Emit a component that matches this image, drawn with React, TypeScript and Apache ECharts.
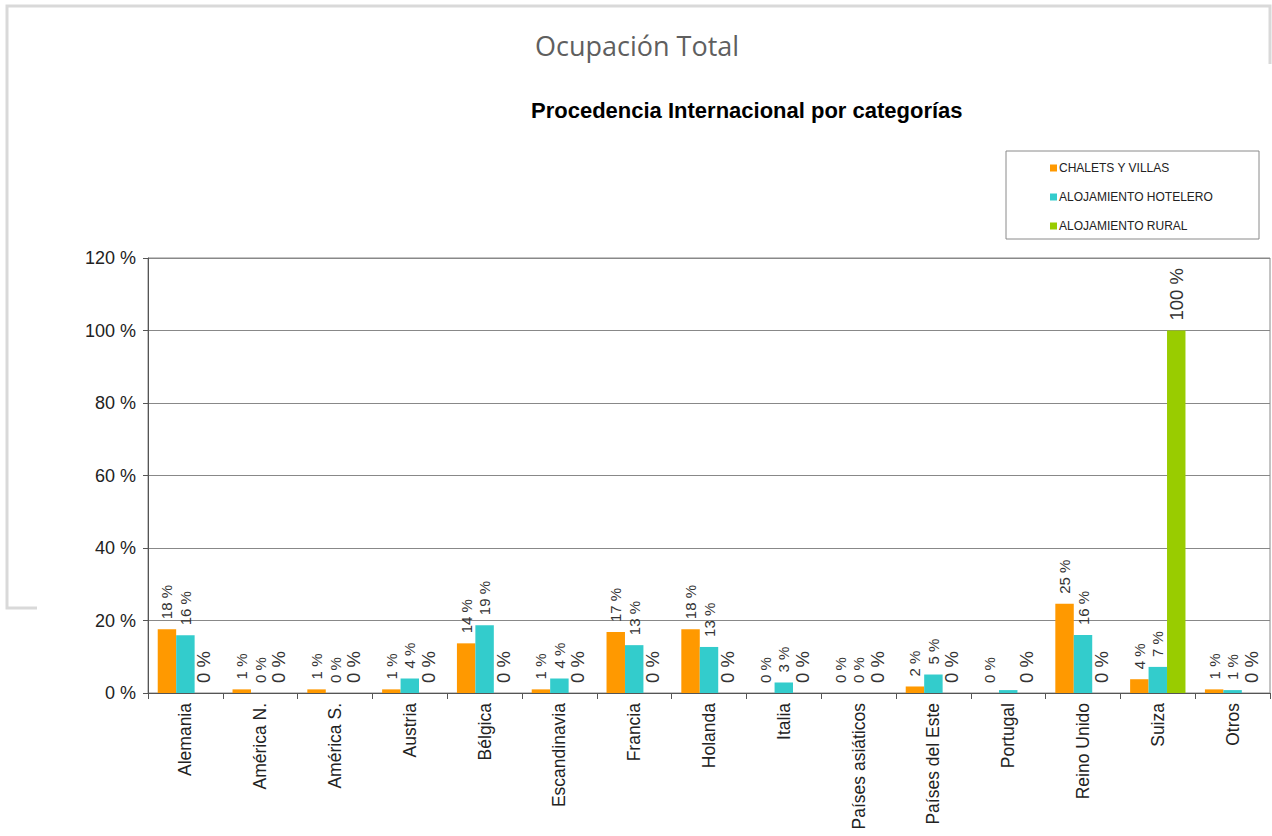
import React, { useEffect, useRef } from "react";
import * as echarts from "echarts";

const categories = [
  "Alemania",
  "América N.",
  "América S.",
  "Austria",
  "Bélgica",
  "Escandinavia",
  "Francia",
  "Holanda",
  "Italia",
  "Países asiáticos",
  "Países del Este",
  "Portugal",
  "Reino Unido",
  "Suiza",
  "Otros",
];
const seriesNames = ["CHALETS Y VILLAS", "ALOJAMIENTO HOTELERO", "ALOJAMIENTO RURAL"];
const chalets = [17.6, 1, 1, 1, 13.7, 1, 16.8, 17.6, 0, 0, 1.8, 0, 24.6, 3.8, 1];
const hotelero = [15.9, 0, 0, 4, 18.7, 4, 13.2, 12.7, 2.9, 0, 5.1, 0.8, 16, 7.2, 0.8];
const rural = [0, 0, 0, 0, 0, 0, 0, 0, 0, 0, 0, 0, 0, 100, 0];
// labels that are not printed in the reference: [seriesIndex, categoryIndex]
const hiddenLabels = [[1, 11]];
const yMin = 0;
const yMax = 120;
const yStep = 20;
const colors = ["#FF9900", "#33CCCC", "#99CC00"];
const labelSizes = [15, 15, 18.5];

const FONT = "'Liberation Sans', Arial, sans-serif";

function buildSeries(values: number[], si: number) {
  return {
    name: seriesNames[si],
    type: "bar",
    barGap: "0%",
    barCategoryGap: "26%",
    itemStyle: { color: colors[si] },
    label: {
      show: true,
      position: "top",
      rotate: 90,
      align: "left",
      verticalAlign: "middle",
      distance: 10,
      fontFamily: FONT,
      fontSize: labelSizes[si],
      color: "#333",
      formatter: (p: any) => `${Math.round(p.value)} %`,
    },
    data: values.map((v, ci) => ({
      value: v,
      label: {
        show: !hiddenLabels.some((h) => h[0] === si && h[1] === ci),
      },
    })),
  };
}

export default function App() {
  const ref = useRef<HTMLDivElement>(null);
  useEffect(() => {
    if (!ref.current) return;
    const chart = echarts.init(ref.current, undefined, { renderer: "svg" });
    chart.setOption({
      animation: false,
      backgroundColor: "#ffffff",
      title: [
        {
          text: "Ocupación Total",
          left: 530,
          top: 27,
          textStyle: {
            fontFamily: "'Open Sans', sans-serif",
            fontWeight: "normal",
            fontSize: 27,
            color: "#5f5f5f",
          },
        },
        {
          text: "Procedencia Internacional por categorías",
          left: 526,
          top: 94,
          textStyle: {
            fontFamily: FONT,
            fontWeight: "bold",
            fontSize: 22,
            color: "#000",
          },
        },
      ],
      legend: {
        orient: "vertical",
        left: 1050,
        top: 161,
        itemWidth: 7,
        itemHeight: 7,
        itemGap: 15,
        icon: "rect",
        padding: 0,
        textStyle: {
          fontFamily: FONT,
          fontSize: 12,
          color: "#222",
          padding: [0, 0, 0, -3],
          lineHeight: 14,
        },
        data: seriesNames,
      },
      grid: {
        left: 148,
        right: 2,
        top: 258,
        bottom: 143,
        show: true,
        borderColor: "#888",
        borderWidth: 1,
        containLabel: false,
        outerBoundsMode: "none",
      },
      xAxis: {
        type: "category",
        data: categories,
        axisLine: { lineStyle: { color: "#555", width: 1 } },
        axisTick: { show: true, length: 6, lineStyle: { color: "#555" } },
        axisLabel: {
          interval: 0,
          rotate: 90,
          margin: 10,
          fontFamily: FONT,
          fontSize: 17.5,
          color: "#222",
        },
      },
      yAxis: {
        type: "value",
        min: yMin,
        max: yMax,
        interval: yStep,
        axisLine: { show: true, lineStyle: { color: "#555", width: 1 } },
        axisTick: { show: true, length: 5, lineStyle: { color: "#555" } },
        axisLabel: {
          formatter: "{value} %",
          margin: 12,
          fontFamily: FONT,
          fontSize: 18,
          color: "#222",
        },
        splitLine: { show: true, lineStyle: { color: "#888", width: 1 } },
      },
      graphic: [
        {
          type: "polyline",
          shape: {
            points: [
              [37, 608],
              [7, 608],
              [7, 6],
              [1270, 6],
              [1270, 64],
            ],
          },
          style: { stroke: "#d9d9d9", lineWidth: 3, fill: "none" },
          silent: true,
        },
        {
          type: "rect",
          shape: { x: 1006, y: 151, width: 253, height: 88 },
          style: { stroke: "#8a8a8a", lineWidth: 1, fill: "none" },
          silent: true,
        },
      ],
      series: [buildSeries(chalets, 0), buildSeries(hotelero, 1), buildSeries(rural, 2)],
    });
    return () => chart.dispose();
  }, []);
  return (
    <div
      ref={ref}
      style={{ position: "fixed", left: 0, top: 0, width: 1272, height: 836, background: "#fff" }}
    />
  );
}
